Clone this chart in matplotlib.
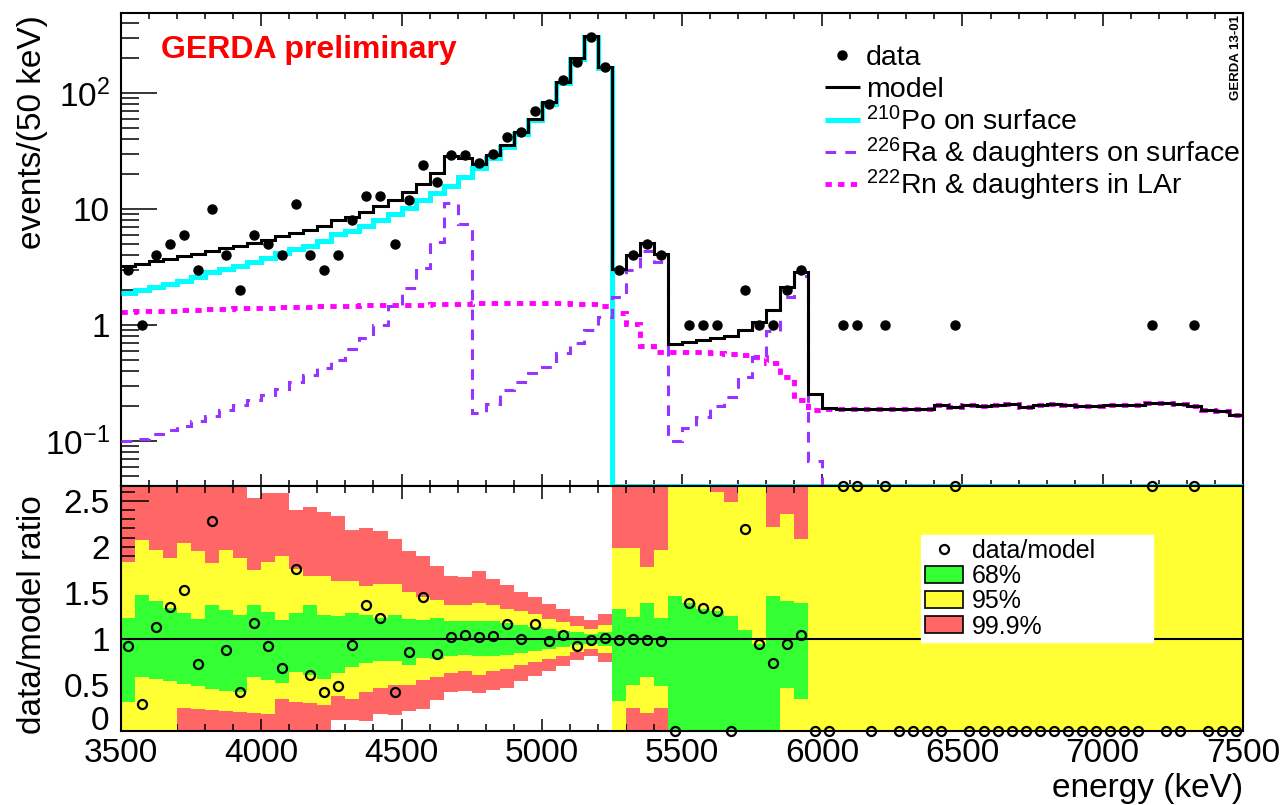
import numpy as np
import matplotlib
matplotlib.use('Agg')
import matplotlib.pyplot as plt
from matplotlib.lines import Line2D
from matplotlib.patches import Patch
from matplotlib.ticker import MultipleLocator, LogLocator, NullFormatter, FixedLocator, FixedFormatter

plt.rcParams['font.family'] = ['Liberation Sans', 'DejaVu Sans']
plt.rcParams['mathtext.fontset'] = 'custom'
plt.rcParams['mathtext.rm'] = 'Liberation Sans'
plt.rcParams['mathtext.it'] = 'Liberation Sans:italic'
plt.rcParams['mathtext.bf'] = 'Liberation Sans:bold'

# ---------------------------------------------------------------
# data: 80 bins of 50 keV, 3500 - 7500 keV
# ---------------------------------------------------------------
edges = np.arange(3500, 7501, 50)
centers = edges[:-1] + 25

data = np.array([3, 1, 4, 5, 6, 3, 10, 4, 2, 6, 5, 4, 11, 4, 3, 4, 8, 13, 13, 5,
                 12, 24, 17, 29, 29, 25, 30, 42, 46, 70, 81, 129, 185, 306, 169,
                 3, 4, 5, 4, 0, 1, 1, 1, 0, 2, 1, 1, 2, 3, 0,
                 0, 1, 1, 0, 1, 0, 0, 0, 0, 1, 0, 0, 0, 0, 0, 0, 0, 0, 0, 0,
                 0, 0, 0, 1, 0, 0, 1, 0, 0, 0])

model = np.array([3.26, 3.38, 3.55, 3.72, 3.92, 4.10, 4.39, 4.57, 4.78, 5.13,
                  5.43, 5.80, 6.25, 6.56, 7.14, 8.10, 8.60, 9.50, 10.6, 11.9,
                  13.9, 16.5, 20.4, 28.5, 27.8, 24.4, 29.2, 36.0, 46.0, 60.0,
                  83.0, 124., 200., 308., 168., 3.02, 4.02, 5.05, 4.07, 0.68,
                  0.72, 0.75, 0.77, 0.80, 0.91, 1.06, 1.36, 2.12, 2.87, 0.254,
                  0.192, 0.190, 0.188, 0.188, 0.188, 0.188, 0.188, 0.190, 0.205, 0.198,
                  0.205, 0.199, 0.206, 0.207, 0.197, 0.205, 0.210, 0.203, 0.202, 0.202,
                  0.203, 0.203, 0.206, 0.211, 0.212, 0.207, 0.202, 0.186, 0.180, 0.169])

po210 = np.array([1.88, 2.00, 2.12, 2.25, 2.42, 2.60, 2.85, 3.02, 3.20, 3.50,
                  3.80, 4.15, 4.50, 4.80, 5.30, 6.10, 6.50, 7.20, 8.10, 9.00,
                  10.3, 12.0, 13.7, 15.8, 18.8, 22.6, 27.5, 34.2, 44.0, 58.0,
                  81.0, 122., 198., 305., 165.] + [0.0] * 45)

ra226 = np.array([0.100, 0.105, 0.115, 0.125, 0.135, 0.150, 0.165, 0.185, 0.205, 0.225,
                  0.250, 0.280, 0.320, 0.370, 0.430, 0.500, 0.620, 0.780, 1.000, 1.450,
                  2.10, 3.08, 5.20, 11.2, 7.40, 0.173, 0.210, 0.275, 0.325, 0.383,
                  0.437, 0.570, 0.695, 0.905, 1.18, 1.76, 2.99, 4.39, 3.48, 0.100,
                  0.130, 0.160, 0.200, 0.240, 0.360, 0.530, 0.890, 1.76, 2.65, 0.067,
                  0.030] + [0.0] * 29)

rn222 = np.array([1.30, 1.31, 1.32, 1.33, 1.34, 1.36, 1.37, 1.38, 1.39, 1.40,
                  1.41, 1.42, 1.43, 1.44, 1.45, 1.46, 1.47, 1.48, 1.48, 1.49,
                  1.50, 1.50, 1.51, 1.52, 1.53, 1.54, 1.54, 1.55, 1.55, 1.55,
                  1.55, 1.54, 1.53, 1.52, 1.45, 1.26, 1.03, 0.66, 0.59, 0.58,
                  0.59, 0.59, 0.57, 0.56, 0.55, 0.53, 0.47, 0.36, 0.225, 0.187,
                  0.190, 0.190, 0.188, 0.188, 0.188, 0.188, 0.188, 0.190, 0.205, 0.198,
                  0.205, 0.199, 0.206, 0.207, 0.197, 0.205, 0.210, 0.203, 0.202, 0.202,
                  0.203, 0.203, 0.206, 0.211, 0.212, 0.207, 0.202, 0.186, 0.180, 0.169])

# probability bands of data/model (ratio units)
band68_lo = np.array([0.31, 0.59, 0.56, 0.54, 0.51, 0.49, 0.46, 0.44, 0.42, 0.585,
                      0.55, 0.52, 0.64, 0.61, 0.56, 0.625, 0.70, 0.74, 0.755, 0.76,
                      0.72, 0.79, 0.78, 0.81, 0.83, 0.82, 0.82, 0.83, 0.85, 0.87,
                      0.89, 0.91, 0.93, 0.943, 0.923, 0.33, 0.50, 0.59, 0.49, 0.0,
                      0.0, 0.0, 0.0, 0.0, 0.0, 0.0, 0.0, 0.47, 0.35, 0.0] + [0.0] * 30)
band68_hi = np.array([1.23, 1.48, 1.41, 1.34, 1.28, 1.22, 1.37, 1.31, 1.26, 1.365,
                      1.29, 1.21, 1.28, 1.37, 1.26, 1.25, 1.28, 1.26, 1.23, 1.26,
                      1.22, 1.21, 1.23, 1.19, 1.19, 1.19, 1.20, 1.17, 1.15, 1.13,
                      1.11, 1.09, 1.07, 1.057, 1.077, 1.32, 1.24, 1.39, 1.23, 1.47,
                      1.39, 1.33, 1.30, 1.25, 1.10, 0.94, 1.47, 1.415, 1.39, 0.0] + [0.0] * 30)
band95_lo = np.array([0.0, 0.0, 0.0, 0.0, 0.255, 0.244, 0.23, 0.22, 0.21, 0.195,
                      0.18, 0.345, 0.32, 0.30, 0.28, 0.375, 0.35, 0.42, 0.47, 0.50,
                      0.50, 0.55, 0.59, 0.63, 0.65, 0.61, 0.65, 0.67, 0.72, 0.75,
                      0.78, 0.82, 0.86, 0.889, 0.85, 0.0, 0.25, 0.20, 0.246, 0.0]
                     + [0.0] * 40)
band95_hi = np.array([1.84, 2.07, 1.97, 1.88, 2.04, 1.95, 1.82, 1.97, 1.88, 1.75,
                      1.84, 1.90, 1.76, 1.68, 1.68, 1.625, 1.63, 1.58, 1.60, 1.60,
                      1.51, 1.45, 1.42, 1.37, 1.37, 1.39, 1.37, 1.33, 1.30, 1.27,
                      1.22, 1.18, 1.14, 1.112, 1.152, 1.99, 1.99, 1.78, 1.97, 2.94,
                      2.78, 2.67, 2.60, 2.49, 3.30, 2.83, 2.21, 2.36, 2.09, 3.94]
                     + [5.0] * 30)
band999_lo = np.array([0.0] * 15 +
                      [0.125, 0.116, 0.105, 0.19, 0.17, 0.22, 0.24, 0.34, 0.42, 0.43,
                       0.41, 0.445, 0.47, 0.54, 0.60, 0.65, 0.71, 0.77, 0.815, 0.75]
                      + [0.0] * 45)
band999_hi = np.array([3.07, 2.96, 3.10, 2.96, 2.80, 2.93, 2.73, 2.84, 2.72, 2.53,
                       2.58, 2.58, 2.40, 2.43, 2.38, 2.33, 2.18, 2.20, 2.17, 2.08,
                       1.95, 1.90, 1.79, 1.68, 1.67, 1.74, 1.65, 1.59, 1.51, 1.45,
                       1.38, 1.32, 1.25, 1.21, 1.27, 2.98, 2.74, 2.97, 2.70, 4.40,
                       4.20, 4.00, 3.90, 3.75, 4.40, 3.80, 4.40, 3.30, 3.48, 11.8]
                      + [10.0] * 30)

x_ticks = [3500, 4000, 4500, 5000, 5500, 6000, 6500, 7000, 7500]
y_ticks_top = [0.1, 1, 10, 100]
y_labels_top = [r'$10^{-1}$', '1', '10', r'$10^{2}$']
y_ticks_ratio = [0, 0.5, 1, 1.5, 2, 2.5]
y_labels_ratio = ['', '0.5', '1', '1.5', '2', '2.5']   # "0" is placed by hand below

# ---------------------------------------------------------------
# figure
# ---------------------------------------------------------------
fig = plt.figure(figsize=(12.81, 8.05), dpi=100)
ax = fig.add_axes([0.0945, 0.3963, 0.8758, 0.5876])
axr = fig.add_axes([0.0945, 0.0919, 0.8758, 0.3043])

YMIN, YMAX = 0.041, 490.0
RTOP = 2.66

def floor(v):
    # ROOT draws empty bins at the lower edge of a log axis
    return np.where(v > 0, v, YMIN)

c_po = '#00ffff'
c_ra = '#9933ff'
c_rn = '#ff00ff'
ls_ra = (0, (3.5, 3.0))
ls_rn = (0, (1.3, 1.3))

ax.stairs(floor(rn222), edges, baseline=None, color=c_rn, lw=3.5,
          linestyle=ls_rn, zorder=2)
ax.stairs(floor(po210), edges, baseline=None, color=c_po, lw=3.6, zorder=3)
ax.stairs(floor(ra226), edges, baseline=None, color=c_ra, lw=2.2,
          linestyle=ls_ra, zorder=4)
ax.stairs(model, edges, baseline=None, color='black', lw=2.2, zorder=5)
has = data > 0
ax.plot(centers[has], data[has], 'o', color='black', ms=6.5, zorder=6)

ax.set_yscale('log')
ax.set_xlim(3500, 7500)
ax.set_ylim(YMIN, YMAX)
ax.yaxis.set_major_locator(FixedLocator(y_ticks_top))
ax.yaxis.set_major_formatter(FixedFormatter(y_labels_top))
ax.yaxis.set_minor_locator(LogLocator(base=10, subs=np.arange(2, 10)))
ax.yaxis.set_minor_formatter(NullFormatter())
ax.xaxis.set_major_locator(MultipleLocator(500))
ax.xaxis.set_minor_locator(MultipleLocator(100))
ax.tick_params(axis='y', which='major', direction='in', length=26, width=1.1,
               labelsize=24, pad=8)
ax.tick_params(axis='y', which='minor', direction='in', length=13, width=1.1)
ax.tick_params(axis='x', which='major', direction='in', length=9, width=1.1,
               top=True, labelbottom=False)
ax.tick_params(axis='x', which='minor', direction='in', length=4.5, width=1.1,
               top=True)
for s in ax.spines.values():
    s.set_linewidth(1.5)

ax.text(0.0357, 0.905, 'GERDA preliminary', transform=ax.transAxes,
        color='#ff0000', fontsize=23, fontweight='bold', va='baseline', ha='left')

# legend of the upper panel, laid out like the ROOT one
def axfrac(px, py):
    return (px - 121.05) / 1121.9, (486.0 - py) / 473.0

leg_rows = [55, 87, 120, 152, 184]
leg_labels = ['data', 'model', r'$^{210}$Po on surface',
              r'$^{226}$Ra & daughters on surface', r'$^{222}$Rn & daughters in LAr']
leg_styles = [dict(color='black', marker='o', ls='none', ms=6.5),
              dict(color='black', lw=2.2),
              dict(color=c_po, lw=3.6),
              dict(color=c_ra, lw=2.2, linestyle=ls_ra),
              dict(color=c_rn, lw=3.5, linestyle=ls_rn)]
for row, lab, st in zip(leg_rows, leg_labels, leg_styles):
    if st.get('marker'):
        xm, ym = axfrac(842, row)
        ax.plot([xm], [ym], transform=ax.transAxes, clip_on=False, **st)
    else:
        x0, ym = axfrac(825, row)
        x1, _ = axfrac(860, row)
        ax.plot([x0, x1], [ym, ym], transform=ax.transAxes, clip_on=False,
                solid_capstyle='butt', dash_capstyle='butt', **st)
    xt, yb = axfrac(866, row + 10)
    ax.text(xt, yb, lab, transform=ax.transAxes, fontsize=20.5,
            ha='left', va='baseline')

# ---------------------------------------------------------------
# ratio panel
# ---------------------------------------------------------------
c_red = '#ff6666'
c_yel = '#ffff33'
c_grn = '#33ff33'
axr.stairs(band999_hi, edges, baseline=band999_lo, fill=True, color=c_red, lw=0, zorder=1)
axr.stairs(band95_hi, edges, baseline=band95_lo, fill=True, color=c_yel, lw=0, zorder=2)
axr.stairs(band68_hi, edges, baseline=band68_lo, fill=True, color=c_grn, lw=2.5, zorder=3)
axr.axhline(1, color='black', lw=1.5, zorder=4)

ratio = data / model
axr.plot(centers, np.minimum(ratio, RTOP), 'o', mfc='none', mec='black', mew=1.6,
         ms=6.5, clip_on=False, zorder=6)

axr.set_xlim(3500, 7500)
axr.set_ylim(0, RTOP)
axr.xaxis.set_major_locator(FixedLocator(x_ticks))
axr.xaxis.set_minor_locator(MultipleLocator(100))
axr.yaxis.set_major_locator(FixedLocator(y_ticks_ratio))
axr.yaxis.set_major_formatter(FixedFormatter(y_labels_ratio))
axr.yaxis.set_minor_locator(MultipleLocator(0.1))
axr.tick_params(axis='y', which='major', direction='in', length=20, width=1.1,
                labelsize=24, pad=8)
axr.tick_params(axis='y', which='minor', direction='in', length=10, width=1.1)
axr.tick_params(axis='x', which='major', direction='in', length=9, width=1.1,
                top=True, labelsize=24, pad=5)
axr.tick_params(axis='x', which='minor', direction='in', length=4.8, width=1.1,
                top=True)
for s in axr.spines.values():
    s.set_linewidth(1.5)
    s.set_zorder(7)

# the "0" of the ratio axis sits a little higher so it clears "3500"
axr.text(-11.5 / 1121.9, 0.10, '0', transform=axr.get_yaxis_transform(),
         ha='right', va='center', fontsize=24)

rhandles = [
    Line2D([], [], marker='o', ls='none', mfc='none', mec='black', mew=1.6, ms=6.5),
    Patch(facecolor=c_grn, edgecolor='black', lw=1.2),
    Patch(facecolor=c_yel, edgecolor='black', lw=1.2),
    Patch(facecolor=c_red, edgecolor='black', lw=1.2),
]
rlabels = ['data/model', '68%', '95%', '99.9%']
leg = axr.legend(rhandles, rlabels, loc='upper left',
                 bbox_to_anchor=(0.713, 0.388, 0.207, 0.412), mode='expand',
                 fontsize=18, handlelength=1.55, handleheight=0.65,
                 handletextpad=0.35, labelspacing=0.05, borderpad=0.15,
                 borderaxespad=0, fancybox=False, framealpha=1.0,
                 facecolor='white', edgecolor='white')
leg.set_zorder(8)

# axis titles
fig.text(33 / 1281, 1 - 15 / 805, 'events/(50 keV)', rotation=90,
         ha='center', va='top', fontsize=24)
fig.text(33 / 1281, 1 - 495 / 805, 'data/model ratio', rotation=90,
         ha='center', va='top', fontsize=24)
fig.text(1243 / 1281, 1 - 797 / 805, 'energy (keV)', ha='right',
         va='baseline', fontsize=24)
fig.text(1236 / 1281, 1 - 15 / 805, 'GERDA 13-01', rotation=90, ha='center',
         va='top', fontsize=9.5, fontweight='bold')

fig.savefig('out.png', dpi=100)
